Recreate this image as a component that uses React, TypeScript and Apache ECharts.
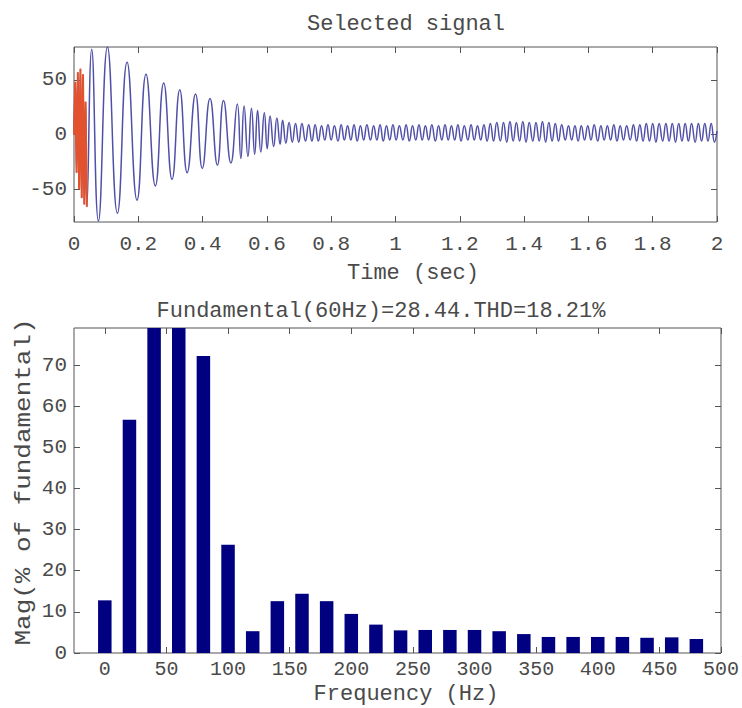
import React, { useEffect, useRef } from "react";
import * as echarts from "echarts";

// ---- Top panel: selected signal (time in s, value) ----
// Selected window drawn in red (visible extremes)
const windowTimes = [0, 0.004, 0.008, 0.012, 0.016, 0.02, 0.024, 0.028, 0.032, 0.036, 0.04];
const windowValues = [0, 48, -35, 57, -50, 60, -58, 55, -64, 30, -66];

// Decaying transient extremes
const transientTimes = [
  0.055, 0.076, 0.104, 0.135, 0.165, 0.196, 0.224, 0.253, 0.279, 0.305,
  0.329, 0.352, 0.378, 0.399, 0.423, 0.446, 0.465, 0.488, 0.508, 0.519,
  0.529, 0.541, 0.552, 0.562, 0.571, 0.581, 0.592, 0.601, 0.61, 0.621,
  0.631, 0.641, 0.649, 0.659,
];
const transientValues = [
  78, -79, 80, -72, 66, -60, 55, -47, 47, -41,
  41, -35, 37, -31, 33, -28, 31, -26, 28, -22,
  26, -20, 24, -18, 22, -16, 20, -13, 17, -11,
  15, -9, 13, -8,
];

// Steady-state ripple extremes
const steadyTimes = [
  0.669, 0.679, 0.689, 0.699, 0.709, 0.72, 0.73, 0.74, 0.75, 0.76,
  0.77, 0.78, 0.79, 0.8, 0.81, 0.821, 0.831, 0.841, 0.851, 0.861,
  0.871, 0.881, 0.891, 0.901, 0.911, 0.922, 0.932, 0.942, 0.952, 0.962,
  0.972, 0.982, 0.992, 1.002, 1.012, 1.023, 1.033, 1.043, 1.053, 1.063,
  1.073, 1.083, 1.093, 1.103, 1.113, 1.124, 1.134, 1.144, 1.154, 1.164,
  1.174, 1.184, 1.194, 1.204, 1.214, 1.225, 1.235, 1.245, 1.255, 1.265,
  1.275, 1.285, 1.295, 1.305, 1.315, 1.326, 1.336, 1.346, 1.356, 1.366,
  1.376, 1.386, 1.396, 1.406, 1.416, 1.427, 1.437, 1.447, 1.457, 1.467,
  1.477, 1.487, 1.497, 1.507, 1.517, 1.528, 1.538, 1.548, 1.558, 1.568,
  1.578, 1.588, 1.598, 1.608, 1.618, 1.629, 1.639, 1.649, 1.659, 1.669,
  1.679, 1.689, 1.699, 1.709, 1.719, 1.73, 1.74, 1.75, 1.76, 1.77,
  1.78, 1.79, 1.8, 1.81, 1.82, 1.831, 1.841, 1.851, 1.861, 1.871,
  1.881, 1.891, 1.901, 1.911, 1.921, 1.932, 1.942, 1.952, 1.962, 1.972,
  1.982, 1.992, 2.0,
];
const steadyValues = [
  11, -7, 10, -7, 10, -6, 9, -6, 9, -6,
  8, -5, 9, -5, 8, -6, 9, -5, 8, -5,
  9, -6, 8, -5, 9, -5, 8, -5, 9, -6,
  8, -5, 9, -5, 8, -5, 9, -6, 8, -5,
  9, -5, 8, -5, 9, -6, 8, -5, 9, -5,
  8, -5, 9, -6, 8, -5, 9, -5, 8, -5,
  9, -6, 10, -6, 11, -6, 11, -7, 12, -6,
  11, -6, 12, -7, 11, -6, 11, -6, 12, -7,
  11, -6, 10, -6, 9, -5, 8, -5, 8, -6,
  8, -5, 8, -5, 9, -6, 8, -5, 8, -5,
  9, -6, 8, -5, 8, -5, 9, -6, 9, -6,
  10, -6, 10, -7, 10, -6, 10, -6, 10, -7,
  10, -6, 10, -6, 10, -7, 10, -6, 10, -6,
  10, -7, 3,
];

const timeTicks = [0, 0.2, 0.4, 0.6, 0.8, 1, 1.2, 1.4, 1.6, 1.8, 2];
const signalTicks = [-50, 0, 50];

// ---- Bottom panel: harmonic spectrum ----
const harmonicFreqs = [
  0, 20, 40, 60, 80, 100, 120, 140, 160, 180, 200, 220, 240,
  260, 280, 300, 320, 340, 360, 380, 400, 420, 440, 460, 480,
];
const harmonicMags = [
  12.8, 56.7, 84, 100, 72.2, 26.3, 5.3, 12.6, 14.4, 12.6, 9.5, 6.9, 5.5,
  5.6, 5.6, 5.6, 5.3, 4.6, 3.9, 3.9, 3.9, 3.9, 3.7, 3.8, 3.4,
];
const freqTicks = [0, 50, 100, 150, 200, 250, 300, 350, 400, 450, 500];
const magTicks = [0, 10, 20, 30, 40, 50, 60, 70];

const FONT = '"Liberation Mono", "Courier New", monospace';
const FRAME = "#555555";
const TEXT = "#4a4a4a";

function frameAxis(
  gridIndex: number,
  position: string,
  min: number,
  max: number,
  ticks: number[],
  showLabels: boolean,
  margin: number,
  fontSize: number
) {
  return {
    type: "value",
    gridIndex,
    position,
    min,
    max,
    axisLine: { show: false, onZero: false },
    splitLine: { show: false },
    axisTick: {
      show: true,
      inside: true,
      length: 6,
      customValues: ticks,
      lineStyle: { color: FRAME, width: 1 },
    },
    axisLabel: {
      show: showLabels,
      customValues: ticks,
      margin,
      fontSize,
      fontFamily: FONT,
      color: TEXT,
      showMinLabel: true,
      showMaxLabel: true,
      hideOverlap: false,
    },
  };
}

export default function App() {
  const ref = useRef<HTMLDivElement>(null);

  useEffect(() => {
    document.body.style.margin = "0";
    if (!ref.current) return;
    const chart = echarts.init(ref.current, undefined, { renderer: "svg" });

    const windowData = windowTimes.map((t, i) => [t, windowValues[i]]);
    const transientData = transientTimes.map((t, i) => [t, transientValues[i]]);
    const steadyData = steadyTimes.map((t, i) => [t, steadyValues[i]]);
    const signalData = [...windowData, ...transientData, ...steadyData];
    const barData = harmonicFreqs.map((f, i) => [f, harmonicMags[i]]);

    const textStyle = (text: string) => ({
      text,
      font: `22px ${FONT}`,
      fill: TEXT,
      align: "center",
      verticalAlign: "middle",
      textAlign: "center",
      textVerticalAlign: "middle",
    });

    chart.setOption({
      animation: false,
      backgroundColor: "#ffffff",
      grid: [
        { left: 74, top: 47, width: 643, height: 175, show: true, borderColor: FRAME, borderWidth: 1, backgroundColor: "transparent" },
        { left: 74, top: 328, width: 647, height: 325, show: true, borderColor: FRAME, borderWidth: 1, backgroundColor: "transparent" },
      ],
      xAxis: [
        frameAxis(0, "bottom", 0, 2, timeTicks, true, 12, 21),
        frameAxis(0, "top", 0, 2, timeTicks, false, 8, 21),
        frameAxis(1, "bottom", -25, 500, freqTicks, true, 6, 20),
        frameAxis(1, "top", -25, 500, freqTicks, false, 8, 20),
      ],
      yAxis: [
        frameAxis(0, "left", -80, 80, signalTicks, true, 7, 21),
        frameAxis(0, "right", -80, 80, signalTicks, false, 8, 21),
        frameAxis(1, "left", 0, 79, magTicks, true, 7, 21),
        frameAxis(1, "right", 0, 79, magTicks, false, 8, 21),
      ],
      series: [
        {
          type: "line",
          xAxisIndex: 0,
          yAxisIndex: 0,
          data: signalData,
          showSymbol: false,
          smooth: 0.5,
          lineStyle: { color: "#5050a8", width: 1.5 },
          z: 2,
        },
        {
          type: "line",
          xAxisIndex: 0,
          yAxisIndex: 0,
          data: windowData,
          showSymbol: false,
          lineStyle: { color: "#e2522e", width: 2 },
          z: 3,
        },
        {
          type: "bar",
          xAxisIndex: 2,
          yAxisIndex: 2,
          data: barData,
          barWidth: 13.5,
          clip: true,
          itemStyle: { color: "#000080" },
        },
      ],
      graphic: [
        { type: "text", x: 406, y: 24, style: textStyle("Selected signal") },
        { type: "text", x: 413, y: 273, style: textStyle("Time (sec)") },
        { type: "text", x: 381, y: 311, style: textStyle("Fundamental(60Hz)=28.44.THD=18.21%") },
        { type: "text", x: 406, y: 694, style: textStyle("Frequency (Hz)") },
        {
          type: "text",
          x: 24,
          y: 482,
          rotation: Math.PI / 2,
          scaleX: 1.18,
          style: textStyle("Mag(% of fundamental)"),
        },
      ],
    });

    return () => {
      chart.dispose();
    };
  }, []);

  return <div ref={ref} style={{ width: 742, height: 708 }} />;
}
